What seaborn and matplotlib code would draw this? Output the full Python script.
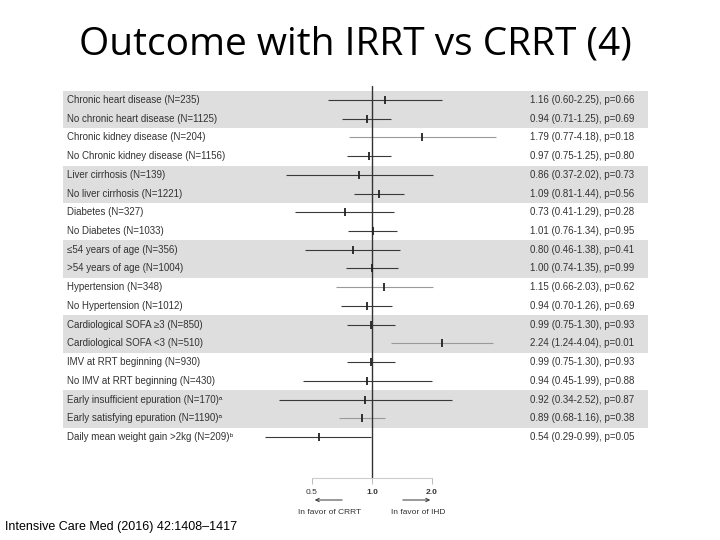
import numpy as np
import pandas as pd
import matplotlib
matplotlib.use("Agg")
import matplotlib.pyplot as plt
import seaborn as sns

# dados do forest plot
subgrupos = [
    "Chronic heart disease (N=235)",
    "No chronic heart disease (N=1125)",
    "Chronic kidney disease (N=204)",
    "No Chronic kidney disease (N=1156)",
    "Liver cirrhosis (N=139)",
    "No liver cirrhosis (N=1221)",
    "Diabetes (N=327)",
    "No Diabetes (N=1033)",
    "≤54 years of age (N=356)",
    ">54 years of age (N=1004)",
    "Hypertension (N=348)",
    "No Hypertension (N=1012)",
    "Cardiological SOFA ≥3 (N=850)",
    "Cardiological SOFA <3 (N=510)",
    "IMV at RRT beginning (N=930)",
    "No IMV at RRT beginning (N=430)",
    "Early insufficient epuration (N=170)ᵃ",
    "Early satisfying epuration (N=1190)ᵃ",
    "Daily mean weight gain >2kg (N=209)ᵇ",
]
hr = [1.16, 0.94, 1.79, 0.97, 0.86, 1.09, 0.73, 1.01, 0.80, 1.00,
      1.15, 0.94, 0.99, 2.24, 0.99, 0.94, 0.92, 0.89, 0.54]
ic_inf = [0.60, 0.71, 0.77, 0.75, 0.37, 0.81, 0.41, 0.76, 0.46, 0.74,
          0.66, 0.70, 0.75, 1.24, 0.75, 0.45, 0.34, 0.68, 0.29]
ic_sup = [2.25, 1.25, 4.18, 1.25, 2.02, 1.44, 1.29, 1.34, 1.38, 1.35,
          2.03, 1.26, 1.30, 4.04, 1.30, 1.99, 2.52, 1.16, 0.99]
pval = ["0.66", "0.69", "0.18", "0.80", "0.73", "0.56", "0.28", "0.95", "0.41", "0.99",
        "0.62", "0.69", "0.93", "0.01", "0.93", "0.88", "0.87", "0.38", "0.05"]
ticks = [0.5, 1.0, 2.0]
tick_labels = ["0.5", "1.0", "2.0"]

df = pd.DataFrame({"subgrupo": subgrupos, "hr": hr, "inf": ic_inf, "sup": ic_sup, "p": pval})
df["linha"] = np.arange(len(df))

sns.set_style("white")
plt.rcParams['font.family'] = ['Liberation Sans', 'DejaVu Sans']

fig = plt.figure(figsize=(7.2, 5.4), dpi=100)
ax = fig.add_axes([63/720, 1 - 478/540, 585/720, 396/540])

# faixas cinzas
for i in [0, 4, 8, 12, 16]:
    ax.axhspan(i - 0.5, i + 1.5, color="#dedede", lw=0, zorder=0)

# linhas dos intervalos
claras = [2, 10, 13, 17]
for i, r in df.iterrows():
    cor = "#9a9a9a" if i in claras else "#3a3a3a"
    ax.hlines(r["linha"], r["inf"], r["sup"], color=cor, lw=0.8, zorder=2)

sns.scatterplot(data=df, x="hr", y="linha", marker="|", s=30, color="#222222",
                linewidth=1.3, ax=ax, zorder=3, legend=False)

ax.axvline(1.0, color="#333333", lw=1.0, ymin=0, ymax=0.99, zorder=2)

ax.set_xscale("log", base=2)
ax.set_xlim(2 ** -5.15, 2 ** 4.6)
ax.set_ylim(20.19, -0.96)

# textos das linhas
for i, r in df.iterrows():
    ax.text(0.007, r["linha"], r["subgrupo"], transform=ax.get_yaxis_transform(),
            ha="left", va="center", fontsize=7, color="#333333")
    txt = "%.2f (%.2f-%.2f), p=%s" % (r["hr"], r["inf"], r["sup"], r["p"])
    ax.text(0.798, r["linha"], txt, transform=ax.get_yaxis_transform(),
            ha="left", va="center", fontsize=7, color="#333333")

# eixo x
for s in ["top", "left", "right"]:
    ax.spines[s].set_visible(False)
ax.spines["bottom"].set_bounds(0.5, 2.0)
ax.spines["bottom"].set_color("#cccccc")
ax.spines["bottom"].set_linewidth(0.8)
ax.set_xticks(ticks)
ax.set_xticklabels(tick_labels, fontsize=6, color="#333333")
ax.minorticks_off()
ax.tick_params(axis="x", length=4, width=0.7, color="#bbbbbb", bottom=True, pad=4)
for lab in ax.get_xticklabels()[1:]:
    lab.set_fontweight("bold")
ax.set_yticks([])
ax.set_xlabel("")
ax.set_ylabel("")

# setas
fig.patches.append(matplotlib.patches.FancyArrowPatch(
    (345/720, 1 - 500/540), (312/720, 1 - 500/540), transform=fig.transFigure,
    arrowstyle="->", mutation_scale=6, lw=0.7, color="#333333"))
fig.patches.append(matplotlib.patches.FancyArrowPatch(
    (400/720, 1 - 500/540), (433/720, 1 - 500/540), transform=fig.transFigure,
    arrowstyle="->", mutation_scale=6, lw=0.7, color="#333333"))
fig.text(330/720, 1 - 513/540, "In favor of CRRT", ha="center", va="center", fontsize=6, color="#333333")
fig.text(418/720, 1 - 513/540, "In favor of IHD", ha="center", va="center", fontsize=6, color="#333333")

# titulo e referencia
fig.text(355/720, 1 - 45/540, "Outcome with IRRT vs CRRT (4)", ha="center", va="center",
         fontsize=28, family=["Open Sans", "DejaVu Sans"], color="#000000")
fig.text(5/720, 1 - 527/540, "Intensive Care Med (2016) 42:1408–1417", ha="left", va="center",
         fontsize=9, color="#000000")

fig.savefig("out.png", dpi=100)
